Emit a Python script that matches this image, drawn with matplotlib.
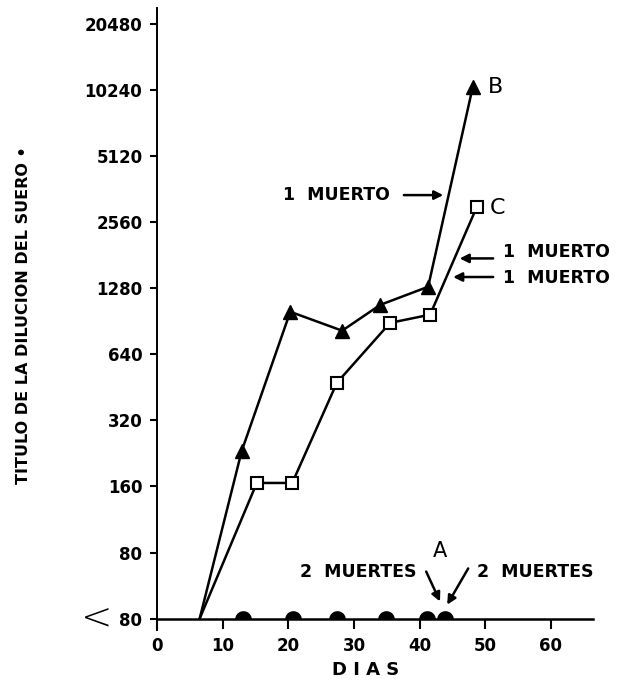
import matplotlib
matplotlib.use('Agg')
import matplotlib.pyplot as plt
import matplotlib.transforms as mtransforms
from matplotlib.path import Path
import numpy as np

# dias y titulos (el nivel "<80" se guarda como 40)
dias_b = [6.5, 12.9, 20.3, 28.2, 34.0, 41.3, 48.1]
titulo_b = [40, 232, 1000, 820, 1075, 1300, 10600]

dias_c = [6.5, 15.2, 20.6, 27.4, 35.5, 41.6, 48.7]
titulo_c = [40, 166, 166, 475, 890, 970, 3000]

dias_a = [13.1, 20.7, 27.4, 34.9, 41.1, 43.9]
titulo_a = [40, 40, 40, 40, 40, 40]

y_ticks = [40, 80, 160, 320, 640, 1280, 2560, 5120, 10240, 20480]
y_labels = ["80", "80", "160", "320", "640", "1280", "2560", "5120", "10240", "20480"]
x_ticks = [0, 10, 20, 30, 40, 50, 60]

plt.rcParams['font.family'] = 'DejaVu Sans'

# marcador de medio circulo (apoyado sobre el eje)
ang = np.linspace(0, np.pi, 30)
semi = Path(np.column_stack([np.cos(ang), np.sin(ang)]).tolist() + [[1, 0]], closed=True)

fig = plt.figure(figsize=(6.2, 6.85), dpi=100)
ax = fig.add_axes([0.2532, 0.0803, 0.7032, 0.908])

ax.set_yscale('log', base=2)
ax.set_xlim(0, 66.4)
ax.set_ylim(35.5, 24200)

# curvas B y C
ax.plot(dias_b, titulo_b, color='black', lw=1.8, marker='^', markersize=10,
        markevery=list(range(1, len(dias_b))), zorder=3)
ax.plot(dias_c, titulo_c, color='black', lw=1.8, marker='s', markersize=9,
        markerfacecolor='white', markeredgecolor='black', markeredgewidth=1.5,
        markevery=list(range(1, len(dias_c))), zorder=3)
# curva A
ax.plot(dias_a, titulo_a, linestyle='none', marker=semi, markersize=12,
        color='black', markeredgewidth=0, zorder=4, clip_on=False)

# ejes
for s in ['top', 'right']:
    ax.spines[s].set_visible(False)
ax.spines['bottom'].set_position(('data', 40))
ax.spines['bottom'].set_linewidth(1.8)
ax.spines['left'].set_linewidth(1.4)

ax.set_yticks(y_ticks)
ax.set_yticklabels(y_labels)
ax.minorticks_off()
ax.set_xticks(x_ticks)
ax.tick_params(axis='y', length=5, width=1.5, pad=5.5, labelsize=12)
ax.tick_params(axis='x', length=7, width=1.5, pad=6, labelsize=12)
for lbl in ax.get_xticklabels() + ax.get_yticklabels():
    lbl.set_fontweight('bold')

trans = mtransforms.blended_transform_factory(ax.transAxes, ax.transData)
ax.text(-0.138, 40, '<', transform=trans, ha='center', va='center',
        fontsize=27, fontweight='light')

fig.text(0.038, 0.54, 'TITULO DE LA DILUCION DEL SUERO •', rotation=90,
         ha='center', va='center', fontsize=11.5, fontweight='bold')
fig.text(0.59, 0.022, 'D I A S', ha='center', va='center',
         fontsize=13, fontweight='bold')

# letras de las curvas
ax.text(51.5, 10600, 'B', ha='center', va='center', fontsize=16)
ax.text(51.8, 2980, 'C', ha='center', va='center', fontsize=16)
ax.text(43.1, 81, 'A', ha='center', va='center', fontsize=15)

flecha = dict(arrowstyle='-|>', color='black', lw=1.8, mutation_scale=13,
              shrinkA=0, shrinkB=0)

ax.text(19.2, 3400, '1  MUERTO', ha='left', va='center', fontsize=12.5, fontweight='bold')
ax.annotate('', xy=(43.6, 3400), xytext=(37.6, 3400), arrowprops=flecha)

ax.text(52.7, 1875, '1  MUERTO', ha='left', va='center', fontsize=12.5, fontweight='bold')
ax.annotate('', xy=(46.1, 1750), xytext=(51.2, 1750), arrowprops=flecha)

ax.text(52.7, 1430, '1  MUERTO', ha='left', va='center', fontsize=12.5, fontweight='bold')
ax.annotate('', xy=(45.1, 1440), xytext=(51.2, 1440), arrowprops=flecha)

ax.text(39.6, 65, '2  MUERTES', ha='right', va='center', fontsize=12.5, fontweight='bold')
ax.annotate('', xy=(43.1, 47.9), xytext=(41.0, 65.5), arrowprops=flecha)

ax.text(48.7, 65, '2  MUERTES', ha='left', va='center', fontsize=12.5, fontweight='bold')
ax.annotate('', xy=(44.2, 46.3), xytext=(47.4, 67.7), arrowprops=flecha)

fig.savefig('out.png', dpi=100)
